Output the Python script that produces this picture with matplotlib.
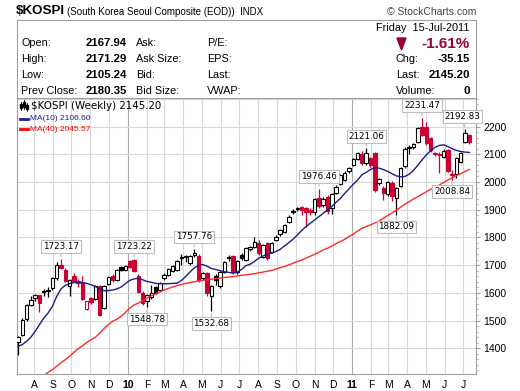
import numpy as np
import pandas as pd
import matplotlib
matplotlib.use('Agg')
import matplotlib.pyplot as plt
import matplotlib.dates as mdates
from matplotlib.patches import Rectangle, Polygon
from matplotlib.lines import Line2D

W, H = 520, 391

# weekly candles, each dated on the Monday of its week
week_start = '2009-07-06'
open_ = [1424, 1448, 1507, 1557, 1581, 1591, 1603, 1606, 1617, 1653,
         1702, 1681, 1623, 1662, 1643, 1635, 1541, 1580, 1579, 1626,
         1545, 1632, 1662, 1647, 1693, 1684, 1714, 1720, 1662, 1600,
         1569, 1585, 1620, 1611, 1653, 1665, 1680, 1684, 1725, 1730,
         1708, 1738, 1734, 1653, 1671, 1587, 1660, 1623, 1675, 1726,
         1734, 1674, 1738, 1720, 1758, 1767, 1781, 1731, 1781, 1749,
         1791, 1811, 1821, 1857, 1890, 1903, 1910, 1905, 1900, 1890,
         1944, 1917, 1947, 1905, 1959, 1992, 2007, 2038, 2062, 2083,
         2100, 2067, 2085, 2104, 1998, 1980, 1956, 1998, 1944, 1987,
         2056, 2122, 2128, 2146, 2200, 2200, 2158, 2100, 2102, 2092,
         2116, 2030, 2028, 2073, 2146, 2170]
high = [1445, 1508, 1560, 1588, 1597, 1593, 1614, 1622, 1656, 1712,
        1723.17, 1690, 1650, 1672, 1650, 1660, 1572, 1585, 1630, 1630,
        1630, 1660, 1668, 1685, 1696, 1700, 1720, 1723.22, 1668, 1605,
        1597, 1630, 1625, 1640, 1670, 1690, 1702, 1720, 1740, 1738,
        1738, 1757.76, 1740, 1675, 1675, 1630, 1668, 1680, 1715, 1735,
        1738, 1720, 1742, 1766, 1770, 1800, 1790, 1778, 1785, 1785,
        1808, 1832, 1850, 1880, 1902, 1910, 1915, 1910, 1906, 1942,
        1976.46, 1945, 1952, 1960, 1988, 2030, 2038, 2055, 2088, 2110,
        2112, 2121.06, 2092, 2108, 2015, 1985, 2005, 2003, 1982, 2055,
        2125, 2135, 2142, 2200, 2231.47, 2215, 2162, 2110, 2108, 2120,
        2120, 2045, 2092, 2108, 2192.83, 2172]
low = [1377, 1445, 1500, 1552, 1570, 1530, 1590, 1585, 1610, 1648,
       1685, 1640, 1587, 1638, 1620, 1575, 1538, 1560, 1575, 1518,
       1540, 1628, 1640, 1643, 1680, 1680, 1690, 1675, 1598, 1556,
       1548.78, 1578, 1595, 1605, 1645, 1660, 1676, 1680, 1702, 1710,
       1700, 1728, 1640, 1648, 1590, 1532.68, 1630, 1618, 1670, 1715,
       1668, 1668, 1720, 1715, 1750, 1760, 1735, 1725, 1720, 1744,
       1786, 1806, 1816, 1852, 1885, 1895, 1880, 1837, 1880, 1880,
       1905, 1910, 1885, 1885, 1955, 1988, 2002, 2033, 2058, 2078,
       2060, 2060, 2055, 1965, 1990, 1935, 1950, 1930, 1882.09, 1982,
       2050, 2100, 2120, 2140, 2165, 2135, 2110, 2095, 2031, 2085,
       2035, 2008.84, 2015, 2068, 2140, 2137]
close = [1440, 1503, 1557, 1575, 1592, 1563, 1607, 1610, 1653, 1699,
         1690, 1644, 1647, 1641, 1636, 1579, 1569, 1566, 1623, 1521,
         1626, 1656, 1645, 1681, 1684, 1696, 1694, 1678, 1602, 1563,
         1592, 1598, 1601, 1635, 1665, 1686, 1698, 1716, 1730, 1733,
         1734, 1742, 1645, 1671, 1598, 1623, 1648, 1675, 1711, 1730,
         1674, 1716, 1726, 1762, 1765, 1785, 1743, 1773, 1727, 1781,
         1803, 1827, 1845, 1875, 1897, 1907, 1898, 1893, 1890, 1938,
         1914, 1938, 1896, 1956, 1983, 2025, 2034, 2050, 2083, 2104,
         2068, 2104, 2062, 1971, 2010, 1959, 2001, 1950, 1977, 2050,
         2119, 2128, 2137, 2194, 2170, 2140, 2116, 2106, 2099, 2112,
         2038, 2027, 2088, 2104, 2176, 2145.20]
ma10 = [1407, 1413, 1425, 1440, 1461, 1485, 1509, 1527, 1551, 1587,
        1614, 1627, 1633, 1637, 1638, 1637, 1634, 1629, 1623, 1614,
        1608, 1608, 1610, 1614, 1621, 1633, 1645, 1650, 1653, 1647,
        1641, 1638, 1634, 1633, 1633, 1633, 1634, 1635, 1644, 1659,
        1675, 1690, 1699, 1702, 1696, 1688, 1684, 1680, 1676, 1674,
        1671, 1674, 1684, 1698, 1703, 1713, 1725, 1733, 1739, 1743,
        1749, 1757, 1769, 1781, 1794, 1809, 1825, 1839, 1851, 1863,
        1875, 1887, 1899, 1911, 1927, 1941, 1959, 1975, 1992, 2007,
        2026, 2035, 2045, 2052, 2050, 2045, 2038, 2030, 2022, 2019,
        2020, 2028, 2042, 2060, 2080, 2098, 2113, 2125, 2132, 2134,
        2128, 2120, 2114, 2110, 2108, 2106.60]
ma40 = [np.nan, np.nan, np.nan, np.nan, np.nan, 1290, 1301, 1313, 1322, 1335,
        1347, 1359, 1371, 1385, 1398, 1409, 1421, 1431, 1439, 1455,
        1471, 1485, 1497, 1505, 1515, 1529, 1545, 1556, 1563, 1572,
        1581, 1589, 1596, 1603, 1610, 1616, 1621, 1626, 1630, 1634,
        1637, 1640, 1643, 1645, 1647, 1649, 1651, 1653, 1655, 1657,
        1658, 1661, 1663, 1665, 1667, 1669, 1672, 1675, 1678, 1681,
        1686, 1691, 1695, 1701, 1707, 1713, 1719, 1725, 1732, 1739,
        1746, 1755, 1761, 1769, 1778, 1785, 1793, 1803, 1812, 1823,
        1833, 1839, 1845, 1852, 1859, 1869, 1879, 1888, 1898, 1909,
        1920, 1929, 1939, 1947, 1956, 1965, 1974, 1981, 1989, 1998,
        2007, 2015, 2023, 2030, 2038, 2045.57]

# candles whose high / low carries a value tag
marked = [(10, 'high'), (27, 'high'), (30, 'low'), (41, 'high'), (45, 'low'),
          (70, 'high'), (81, 'high'), (88, 'low'), (94, 'high'),
          (101, 'low'), (104, 'high')]

info_labels = ['Open:', 'High:', 'Low:', 'Prev Close:']
info_values = ['2167.94', '2171.29', '2105.24', '2180.35']
info_mid = ['Ask:', 'Ask Size:', 'Bid:', 'Bid Size:']
info_right = ['P/E:', 'EPS:', 'Last:', 'VWAP:']
quote_labels = ['Chg:', 'Last:', 'Volume:']
quote_values = ['-35.15', '2145.20', '0']

SANS = 'Liberation Sans'
RED = '#cc0033'
DARKRED = '#990033'


def fx(px):
    return px / W


def fy(py):
    return 1 - py / H


open_ = np.array(open_)
high = np.array(high)
low = np.array(low)
close = np.array(close)
dates = pd.date_range(week_start, periods=len(close), freq='W-MON')
x = mdates.date2num(dates)

fig = plt.figure(figsize=(W / 100, H / 100), dpi=100)
fig.patch.set_facecolor('white')

# ---- header -------------------------------------------------------------
fig.text(fx(16), fy(11), '$KOSPI', fontsize=9.6, fontweight='bold',
         family=SANS, va='center')
fig.text(fx(67), fy(12), '(South Korea Seoul Composite (EOD))  INDX',
         fontsize=7, family=SANS, va='center')
fig.text(fx(476), fy(12), '\u00a9 StockCharts.com', fontsize=7.5,
         family=SANS, color='#444444', ha='right', va='center')

fig.patches.append(Rectangle((fx(17), fy(97.5)), (476 - 17) / W,
                             (97.5 - 19.5) / H, transform=fig.transFigure,
                             facecolor='white', edgecolor='#a0a0a0', lw=0.8))

rows = [43, 59.5, 75.5, 91]
for i, py in enumerate(rows):
    fig.text(fx(21), fy(py), info_labels[i], fontsize=7.8, family=SANS,
             va='center')
    fig.text(fx(127), fy(py), info_values[i], fontsize=8.2, family=SANS,
             fontweight='bold', va='center', ha='right')
    fig.text(fx(136), fy(py), info_mid[i], fontsize=7.8, family=SANS,
             va='center')
    fig.text(fx(207), fy(py), info_right[i], fontsize=7.8, family=SANS,
             va='center')

fig.text(fx(469), fy(28), 'Friday  15-Jul-2011', fontsize=7.8, family=SANS,
         ha='right', va='center')
fig.patches.append(Polygon([(fx(397), fy(38)), (fx(406), fy(38)),
                            (fx(401.5), fy(50))], closed=True,
                           transform=fig.transFigure, color=DARKRED))
fig.text(fx(470), fy(44), '-1.61%', fontsize=11, family=SANS,
         fontweight='bold', color=DARKRED, ha='right', va='center')
for i, py in enumerate(rows[1:]):
    fig.text(fx(396), fy(py), quote_labels[i], fontsize=7.8, family=SANS,
             va='center')
    fig.text(fx(470), fy(py), quote_values[i], fontsize=8.2, family=SANS,
             fontweight='bold', ha='right', va='center')

# ---- price panel --------------------------------------------------------
ax = fig.add_axes([fx(17), fy(374), (476 - 17) / W, (374 - 97.5) / H])
ax.set_facecolor('white')

x_lo = mdates.date2num(pd.Timestamp('2009-07-04 10:00'))
x_hi = mdates.date2num(pd.Timestamp('2011-07-21 19:00'))
ax.set_xlim(x_lo, x_hi)
ax.set_ylim(1307, 2305)

months = pd.date_range('2009-08-01', '2011-07-01', freq='MS')
for m in months:
    ax.axvline(mdates.date2num(m), color='#a8a8a8' if m.month == 1 else '#d8d8d8',
               lw=0.8, zorder=0)
for v in range(1400, 2301, 100):
    ax.axhline(v, color='#d8d8d8', lw=0.8, zorder=0)

prev_close = np.r_[close[0], close[:-1]]
edge = np.where(close < prev_close, RED, 'black')
face = np.where(close >= open_, 'white', edge)

ax.vlines(x, low, high, colors=edge, lw=0.9, zorder=3)
ax.bar(x, np.maximum(np.abs(close - open_), 1.5), bottom=np.minimum(open_, close),
       width=5.6, color=face, edgecolor=edge, linewidth=0.8, zorder=4)

ax.plot(x, ma10, color='#1c1c8c', lw=1.0, zorder=5)
ax.plot(x, ma40, color='#ff2a2a', lw=1.0, zorder=5)

for k, end in marked:
    val = high[k] if end == 'high' else low[k]
    off = 5.5 if end == 'high' else -5.5
    dx = -2 if k == len(close) - 2 else 0
    ax.annotate(f'{val:.2f}', xy=(x[k], val), xytext=(dx, off),
                textcoords='offset points', ha='center',
                va='bottom' if end == 'high' else 'top',
                fontsize=6.3, family='DejaVu Sans', zorder=6,
                bbox=dict(boxstyle='square,pad=0.2', fc='white', ec='#bdbdbd', lw=0.8),
                arrowprops=dict(arrowstyle='-', color='#bdbdbd', lw=0.8,
                                shrinkA=0, shrinkB=1.5))


# legend block in the upper left corner
def ax_px(px, py):
    return ((px - 17) / (476 - 17), (374 - py) / (374 - 97.5))


for gx, (b0, b1) in zip([21, 24, 27], [(104, 108), (102, 107), (105, 109)]):
    ax.add_line(Line2D(*zip(ax_px(gx, b0 - 2), ax_px(gx, b1 + 2)),
                       transform=ax.transAxes, color='black', lw=0.6))
    ax.add_patch(Rectangle(ax_px(gx - 1, b1), 2 / (476 - 17),
                           (b1 - b0) / (374 - 97.5), transform=ax.transAxes,
                           color='black'))
tx, ty = ax_px(31, 106)
ax.text(tx, ty, f'$KOSPI (Weekly) {close[-1]:.2f}', transform=ax.transAxes,
        fontsize=7.4, family='DejaVu Sans', va='center')
for py, lab, val, col in [(119, 'MA(10)', ma10[-1], '#1c1c8c'),
                          (129, 'MA(40)', ma40[-1], '#ff0000')]:
    ax.add_line(Line2D(*zip(ax_px(20, py), ax_px(28, py)), transform=ax.transAxes,
                       color=col, lw=2))
    tx, ty = ax_px(30, py)
    ax.text(tx, ty, f'{lab} {val:.2f}', transform=ax.transAxes, fontsize=6,
            family=SANS, color=col, va='center')

# axes styling
for s in ax.spines.values():
    s.set_color('#a0a0a0')
    s.set_linewidth(0.8)
ax.yaxis.tick_right()
ax.set_yticks(range(1400, 2201, 100))
ax.set_yticks(range(1320, 2301, 20), minor=True)
ax.tick_params(axis='y', which='major', length=3, color='#a0a0a0', pad=2,
               labelsize=7.5)
ax.tick_params(axis='y', which='minor', length=1.5, color='#a0a0a0')
for t in ax.get_yticklabels():
    t.set_family(SANS)

ax.set_xticks(mdates.date2num(months))
ax.set_xticklabels([m.strftime('%y') if m.month == 1 else m.strftime('%b')[0]
                    for m in months])
ax.tick_params(axis='x', length=0, pad=4, labelsize=7.5)
for t, m in zip(ax.get_xticklabels(), months):
    t.set_family(SANS)
    if m.month == 1:
        t.set_fontweight('bold')

fig.savefig('out.png', dpi=100, facecolor='white')
